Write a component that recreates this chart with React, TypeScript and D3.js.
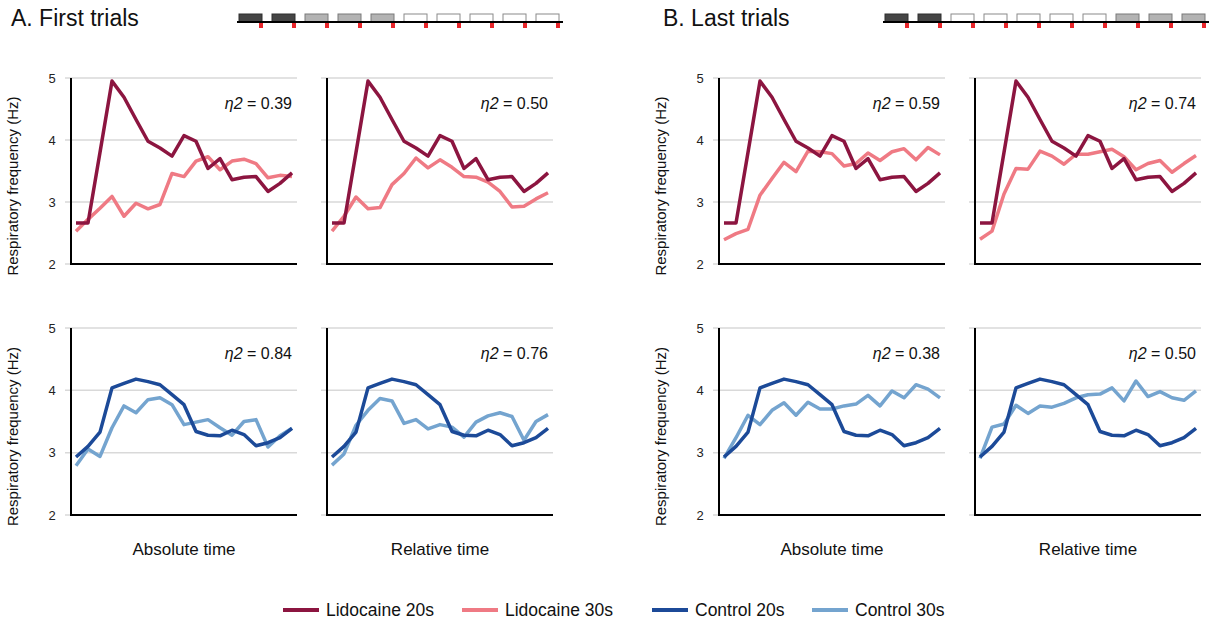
import React from "react";
import * as d3 from "d3";

// time bins (19 per panel)
const bins = d3.range(19);

// shared series
const lido20 = [2.66, 2.66, 3.8, 4.95, 4.69, 4.33, 3.98, 3.87, 3.74, 4.07, 3.98, 3.54, 3.7, 3.36, 3.4, 3.41, 3.17, 3.3, 3.47];
const ctrl20 = [2.93, 3.1, 3.33, 4.04, 4.11, 4.18, 4.14, 4.09, 3.93, 3.77, 3.34, 3.28, 3.27, 3.36, 3.29, 3.11, 3.16, 3.24, 3.39];

// 30s series per panel
const lido30FirstAbs = [2.53, 2.72, 2.9, 3.09, 2.77, 2.98, 2.89, 2.96, 3.46, 3.41, 3.66, 3.73, 3.52, 3.66, 3.69, 3.62, 3.39, 3.43, 3.41];
const lido30FirstRel = [2.53, 2.77, 3.08, 2.89, 2.91, 3.28, 3.46, 3.71, 3.55, 3.68, 3.56, 3.41, 3.4, 3.32, 3.17, 2.92, 2.93, 3.05, 3.15];
const lido30LastAbs = [2.39, 2.49, 2.56, 3.11, 3.38, 3.64, 3.49, 3.82, 3.81, 3.78, 3.58, 3.62, 3.79, 3.67, 3.81, 3.86, 3.68, 3.88, 3.76];
const lido30LastRel = [2.4, 2.53, 3.13, 3.54, 3.53, 3.82, 3.74, 3.61, 3.77, 3.77, 3.81, 3.85, 3.73, 3.52, 3.62, 3.67, 3.48, 3.62, 3.75];
const ctrl30FirstAbs = [2.79, 3.06, 2.94, 3.4, 3.75, 3.64, 3.85, 3.88, 3.77, 3.45, 3.49, 3.53, 3.4, 3.28, 3.5, 3.53, 3.09, 3.27, 3.39];
const ctrl30FirstRel = [2.8, 2.98, 3.44, 3.68, 3.87, 3.83, 3.47, 3.53, 3.38, 3.45, 3.41, 3.25, 3.49, 3.59, 3.64, 3.58, 3.2, 3.5, 3.61];
const ctrl30LastAbs = [2.91, 3.24, 3.6, 3.45, 3.68, 3.8, 3.6, 3.81, 3.7, 3.7, 3.75, 3.78, 3.92, 3.75, 3.99, 3.88, 4.09, 4.02, 3.88];
const ctrl30LastRel = [2.91, 3.41, 3.46, 3.76, 3.63, 3.75, 3.73, 3.79, 3.88, 3.93, 3.94, 4.04, 3.83, 4.15, 3.9, 3.98, 3.88, 3.84, 3.99];

const etaLabels = ["0.39", "0.50", "0.59", "0.74", "0.84", "0.76", "0.38", "0.50"];
const yTicks = [2, 3, 4, 5];
const xLabels = ["Absolute time", "Relative time"];
const groupTitles = ["A. First trials", "B. Last trials"];
const seriesNames = ["Lidocaine 20s", "Lidocaine 30s", "Control 20s", "Control 30s"];

// trial schedule boxes: d = dark, g = grey, w = white
const firstTrialBoxes = ["d", "d", "g", "g", "g", "w", "w", "w", "w", "w"];
const lastTrialBoxes = ["d", "d", "w", "w", "w", "w", "w", "g", "g", "g"];

const colors = ["#8c1540", "#ef7a84", "#1c4a98", "#74a4cf"];
const boxFill: Record<string, string> = { d: "#454545", g: "#b3b3b3", w: "#ffffff" };
const boxStroke: Record<string, string> = { d: "#2e2e2e", g: "#7a7a7a", w: "#8a8a8a" };

const FONT = "'Liberation Sans', Arial, sans-serif";

const W = 1210;
const H = 624;
const panelW = 226;
const colX = [71, 327, 719, 975];
const rowY = [{ top: 78, bottom: 264 }, { top: 328, bottom: 515 }];

const panels = [
  { col: 0, row: 0, a: lido20, b: lido30FirstAbs, ca: 0, cb: 1, eta: etaLabels[0] },
  { col: 1, row: 0, a: lido20, b: lido30FirstRel, ca: 0, cb: 1, eta: etaLabels[1] },
  { col: 2, row: 0, a: lido20, b: lido30LastAbs, ca: 0, cb: 1, eta: etaLabels[2] },
  { col: 3, row: 0, a: lido20, b: lido30LastRel, ca: 0, cb: 1, eta: etaLabels[3] },
  { col: 0, row: 1, a: ctrl20, b: ctrl30FirstAbs, ca: 2, cb: 3, eta: etaLabels[4] },
  { col: 1, row: 1, a: ctrl20, b: ctrl30FirstRel, ca: 2, cb: 3, eta: etaLabels[5] },
  { col: 2, row: 1, a: ctrl20, b: ctrl30LastAbs, ca: 2, cb: 3, eta: etaLabels[6] },
  { col: 3, row: 1, a: ctrl20, b: ctrl30LastRel, ca: 2, cb: 3, eta: etaLabels[7] },
];

function Panel({ p }: { p: (typeof panels)[number] }) {
  const left = colX[p.col];
  const { top, bottom } = rowY[p.row];
  const x = d3.scaleLinear().domain([0, bins.length - 1]).range([left + 5, left + panelW - 5]);
  const y = d3.scaleLinear().domain([2, 5]).range([bottom, top]);
  const line = d3
    .line<number>()
    .x((_, i) => x(bins[i]))
    .y((d) => y(d));
  const showTicks = p.col === 0 || p.col === 2;
  return (
    <g>
      {yTicks.map((t) => (
        <line key={t} x1={left - 6} x2={left + panelW} y1={y(t)} y2={y(t)} stroke="#d9d9d9" strokeWidth={1.5} />
      ))}
      {showTicks &&
        yTicks.map((t) => (
          <text key={t} x={left - 19} y={y(t)} dy="0.35em" textAnchor="middle" fontSize={13} fill="#222">
            {t}
          </text>
        ))}
      {showTicks && (
        <text
          transform={`translate(${left - 53},${(top + bottom) / 2 + 15}) rotate(-90)`}
          textAnchor="middle"
          fontSize={15}
          fill="#111"
        >
          Respiratory frequency (Hz)
        </text>
      )}
      <path d={line(p.b) || ""} fill="none" stroke={colors[p.cb]} strokeWidth={3.5} strokeLinejoin="round" />
      <path d={line(p.a) || ""} fill="none" stroke={colors[p.ca]} strokeWidth={3.5} strokeLinejoin="round" />
      <line x1={left} x2={left} y1={top} y2={bottom + 1} stroke="#000" strokeWidth={2} />
      <line x1={left - 1} x2={left + panelW} y1={bottom} y2={bottom} stroke="#000" strokeWidth={2} />
      <text x={left + panelW - 5} y={top + 31} textAnchor="end" fontSize={16} fill="#111">
        <tspan fontStyle="italic">η2</tspan>
        <tspan> = {p.eta}</tspan>
      </text>
      {p.row === 1 && (
        <text x={left + panelW / 2} y={bottom + 40} textAnchor="middle" fontSize={17} fill="#111">
          {xLabels[p.col % 2]}
        </text>
      )}
    </g>
  );
}

function TrialBar({ x0, boxes }: { x0: number; boxes: string[] }) {
  const step = 33;
  const baseY = 22;
  const bx = d3.scaleLinear().domain([0, 1]).range([x0, x0 + step]);
  return (
    <g>
      {boxes.map((b, i) => (
        <g key={i}>
          <rect x={bx(i)} y={baseY - 8} width={23} height={8} fill={boxFill[b]} stroke={boxStroke[b]} strokeWidth={1} />
          <rect x={bx(i) + 20} y={baseY} width={4} height={6} fill="#e8262b" />
        </g>
      ))}
      <line x1={x0 - 2} x2={bx(boxes.length) - 6} y1={baseY} y2={baseY} stroke="#000" strokeWidth={2} />
    </g>
  );
}

export default function App() {
  const legendX = [283, 462, 652, 812];
  return (
    <div style={{ position: "absolute", left: 0, top: 0 }}>
      <svg width={W} height={H} style={{ display: "block", fontFamily: FONT }}>
        <rect width={W} height={H} fill="#fff" />
        <text x={11} y={26} fontSize={23} fill="#111">{groupTitles[0]}</text>
        <text x={663} y={26} fontSize={23} fill="#111">{groupTitles[1]}</text>
        <TrialBar x0={239} boxes={firstTrialBoxes} />
        <TrialBar x0={885} boxes={lastTrialBoxes} />
        {panels.map((p, i) => (
          <Panel key={i} p={p} />
        ))}
        {seriesNames.map((name, i) => (
          <g key={name}>
            <line x1={legendX[i]} x2={legendX[i] + 36} y1={610} y2={610} stroke={colors[i]} strokeWidth={4} />
            <text x={legendX[i] + 43} y={610} dy="0.35em" fontSize={17.5} fill="#111">
              {name}
            </text>
          </g>
        ))}
      </svg>
    </div>
  );
}
